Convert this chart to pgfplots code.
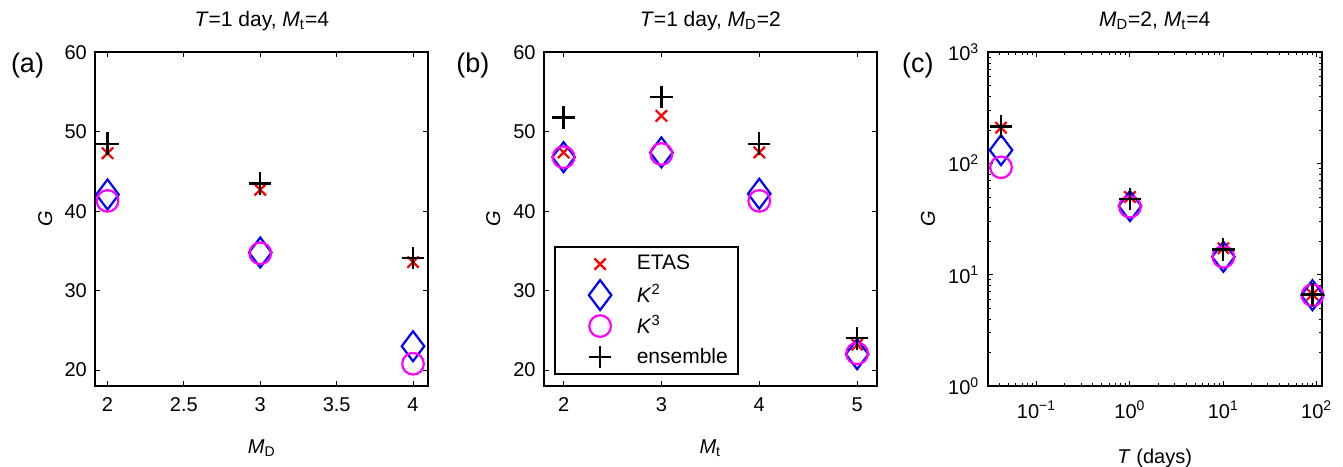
\documentclass[border=0pt]{standalone}
\usepackage{fontspec}
\setmainfont{Liberation Sans}
\usepackage{pgfplots}
\pgfplotsset{compat=1.18}
\definecolor{mag}{rgb}{1,0,1}
\definecolor{rd}{rgb}{1,0,0}
\definecolor{bl}{rgb}{0,0,1}

\pgfplotsset{
  panel/.style={
    scale only axis, height=166.85pt, anchor=south west,
    axis line style={line width=1pt},
    tick align=inside, major tick length=2.5pt, minor tick length=1.5pt,
    every tick/.style={black, line width=0.5pt},
    tick label style={font=\fontsize{10}{12}\selectfont},
    /pgf/number format/assume math mode=true,
    xticklabel style={anchor=base, yshift=-12.8pt},
    yticklabel style={anchor=east, xshift=-0.7pt},
    title style={font=\fontsize{10.5}{12}\selectfont, at={(0.5,1)}, anchor=base, yshift=6.8pt},
    label style={font=\fontsize{10}{12}\selectfont},
    xlabel style={at={(axis description cs:0.5,0)}, anchor=base, yshift=-33.5pt},
    ylabel style={at={(axis description cs:-0.130,0.5)}, anchor=base},
    ylabel={\textit{G}},
  },
  etas/.style={only marks, mark=x, rd, mark size=4pt, mark options={line width=1.1pt}},
  ktwo/.style={only marks, mark=diamond, bl, mark size=7.5pt, mark options={line width=1.1pt}},
  kthree/.style={only marks, mark=o, mag, mark size=5.4pt, mark options={line width=1.1pt}},
  ens/.style={only marks, mark=+, black, mark size=5.6pt, mark options={line width=1.1pt}},
}

\begin{document}
\begin{tikzpicture}
\path[use as bounding box] (0,0) rectangle (671.5pt,233pt);

% (a)
\begin{axis}[panel, at={(47.65pt,40pt)}, width=166.5pt,
  xmin=1.92, xmax=4.1, ymin=18, ymax=60,
  xtick={2,2.5,3,3.5,4}, ytick={20,30,40,50,60},
  xticklabels={2,2.5,3,3.5,4},
  title={\textit{T}=1 day, \textit{M}\textsubscript{t}=4},
  xlabel={\textit{M}\textsubscript{D}}]
\addplot[etas] coordinates {(2,47.3) (3,42.7) (4,33.6)};
\addplot[ktwo] coordinates {(2,42.1) (3,34.8) (4,23.0)};
\addplot[kthree] coordinates {(2,41.3) (3,34.7) (4,20.8)};
\addplot[ens] coordinates {(2,48.5) (3,43.5) (4,34.1)};
\end{axis}

% (b)
\begin{axis}[panel, at={(272pt,40pt)}, width=166.35pt,
  xmin=1.8, xmax=5.2, ymin=18, ymax=60,
  xtick={2,3,4,5}, ytick={20,30,40,50,60},
  ylabel style={at={(axis description cs:-0.132,0.5)}},
  title={\textit{T}=1 day, \textit{M}\textsubscript{D}=2},
  xlabel={\textit{M}\textsubscript{t}},
  legend cell align=left,
  legend style={at={(0.031,0.033)}, anchor=south west, draw=black, line width=0.8pt,
    inner xsep=5pt, inner ysep=0.8pt, row sep=0pt, column sep=12.7pt,
    font=\fontsize{10.5}{12}\selectfont,
    nodes={inner sep=0pt, minimum height=15.5pt}},
  legend image code/.code={\path[draw=none, fill=none] (-30.2pt,-0.5pt) rectangle (-30pt,0.5pt);
    \draw[#1] plot coordinates {(-12.7pt,0pt)};}]
\addplot[etas] coordinates {(2,47.4) (3,52.0) (4,47.4) (5,23.2)};
\addlegendentry{ETAS}
\addplot[ktwo] coordinates {(2,46.8) (3,47.4) (4,42.2) (5,22.0)};
\addlegendentry{\textit{K}\textsuperscript{2}}
\addplot[kthree] coordinates {(2,46.8) (3,47.2) (4,41.3) (5,22.1)};
\addlegendentry{\textit{K}\textsuperscript{3}}
\addplot[ens] coordinates {(2,51.8) (3,54.4) (4,48.5) (5,24.0)};
\addlegendentry{ensemble}
\end{axis}

% (c)
\begin{axis}[panel, at={(493.85pt,40pt)}, width=167pt,
  xmode=log, ymode=log,
  xmin=0.03, xmax=113, ymin=1, ymax=1000,
  xtick={0.1,1,10,100},
  xticklabels={10\textsuperscript{−1},10\textsuperscript{0},10\textsuperscript{1},10\textsuperscript{2}},
  ytick={1,10,100,1000},
  yticklabels={10\textsuperscript{0},10\textsuperscript{1},10\textsuperscript{2},10\textsuperscript{3}},
  minor xtick={0.03,0.04,0.05,0.06,0.07,0.08,0.09,0.2,0.3,0.4,0.5,0.6,0.7,0.8,0.9,2,3,4,5,6,7,8,9,20,30,40,50,60,70,80,90},
  minor ytick={2,3,4,5,6,7,8,9,20,30,40,50,60,70,80,90,200,300,400,500,600,700,800,900},
  xticklabel style={yshift=-3.2pt},
  ylabel style={at={(axis description cs:-0.158,0.5)}},
  title={\textit{M}\textsubscript{D}=2, \textit{M}\textsubscript{t}=4},
  xlabel={\textit{T} (days)},
  xlabel style={yshift=-5pt}]
\addplot[etas] coordinates {(0.04167,210) (1,50) (10,17.3) (90,6.66)};
\addplot[ktwo] coordinates {(0.04167,132) (1,41.5) (10,14.5) (90,6.55)};
\addplot[kthree] coordinates {(0.04167,92.5) (1,40.9) (10,14.5) (90,6.55)};
\addplot[ens] coordinates {(0.04167,215) (1,48) (10,16.9) (90,6.66)};
\end{axis}

\node[anchor=base west, inner sep=0pt, font=\fontsize{13.5}{16}\selectfont] at (5.3pt,196.8pt) {(a)};
\node[anchor=base west, inner sep=0pt, font=\fontsize{13.5}{16}\selectfont] at (228pt,196.8pt) {(b)};
\node[anchor=base west, inner sep=0pt, font=\fontsize{13.5}{16}\selectfont] at (450.8pt,196.8pt) {(c)};
\end{tikzpicture}
\end{document}
